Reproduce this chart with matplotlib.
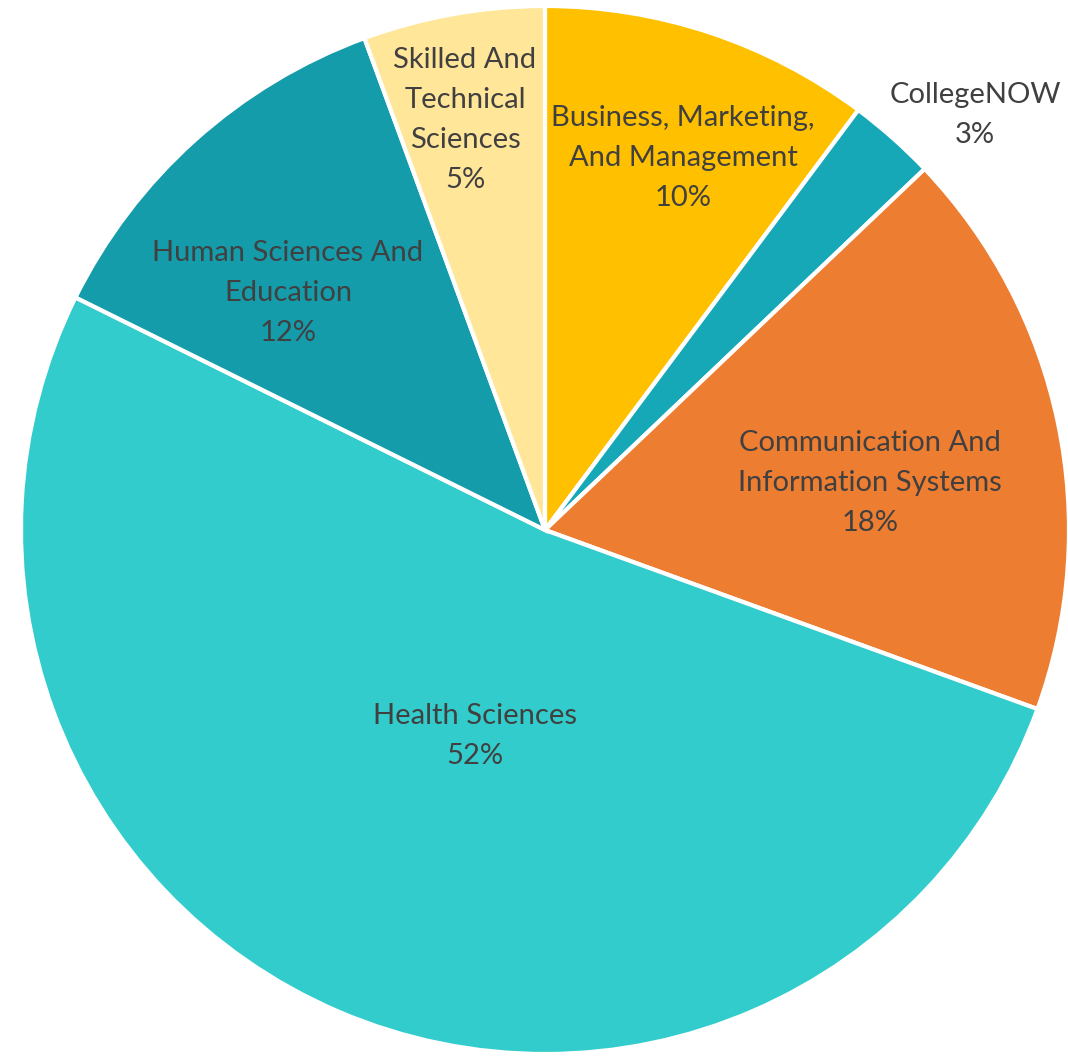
import matplotlib
matplotlib.use("Agg")
import matplotlib.pyplot as plt

categories = ["Business, Marketing,\nAnd Management", "CollegeNOW",
              "Communication And\nInformation Systems", "Health Sciences",
              "Human Sciences And\nEducation", "Skilled And\nTechnical\nSciences"]
# slice shares as measured from the wedge angles in the picture
values = [10.2, 2.7, 17.65, 51.77, 12.08, 5.6]
# percentage labels as printed on the chart
pct_labels = ["10%", "3%", "18%", "52%", "12%", "5%"]
colors = ["#FFC000", "#17A8B8", "#ED7D31", "#33CCCC", "#149CAB", "#FFE699"]

W, H = 1068, 1056
cx, cy, R = 545, 530, 524

fig = plt.figure(figsize=(W / 100, H / 100), dpi=100)
ax = fig.add_axes([0, 0, 1, 1])
ax.pie(values, colors=colors, startangle=90, counterclock=False, radius=1,
       wedgeprops=dict(edgecolor="white", linewidth=3))
ax.set_xlim((0 - cx) / R, (W - cx) / R)
ax.set_ylim(-(H - cy) / R, cy / R)
ax.set_aspect("equal")
ax.axis("off")

# label centers in pixel coordinates
label_px = [(683, 158), (975, 115), (870, 483), (475, 736), (288, 293), (465, 120)]
for cat, p, (px, py) in zip(categories, pct_labels, label_px):
    ax.text((px - cx) / R, (cy - py) / R, f"{cat}\n{p}", ha="center", va="center",
            fontsize=21, family="Lato", color="#404040", linespacing=1.68)

fig.savefig("out.png", dpi=100)
